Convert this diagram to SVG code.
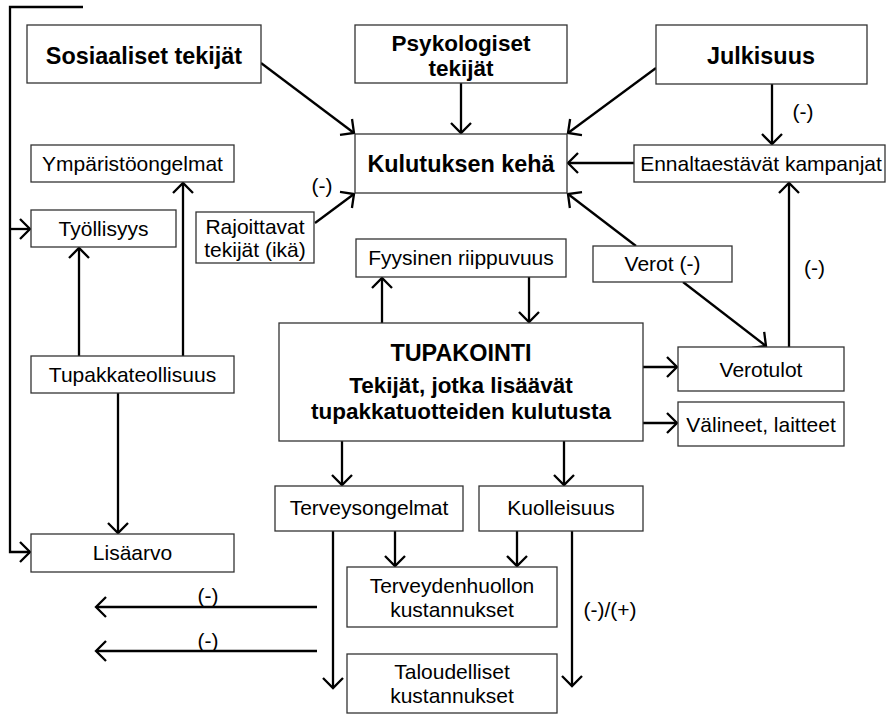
<svg xmlns="http://www.w3.org/2000/svg" width="886" height="714" viewBox="0 0 886 714">
<style>
.box{fill:#fff;stroke:#333;stroke-width:1.3}
.t{font-family:"Liberation Sans",Arial,sans-serif;font-size:21px;fill:#000;text-anchor:middle}
.b{font-family:"Liberation Sans",Arial,sans-serif;font-size:23.4px;font-weight:bold;fill:#000;text-anchor:middle}
.b2{font-family:"Liberation Sans",Arial,sans-serif;font-size:22.5px;font-weight:bold;fill:#000;text-anchor:middle}
.c{fill:none;stroke:#000;stroke-width:2.3}
</style>
<defs>
<marker id="ah" markerUnits="userSpaceOnUse" viewBox="-13 -12 15 24" markerWidth="15" markerHeight="24" refX="0" refY="0" orient="auto">
<path d="M-10,-10 L0,0 L-10,10" fill="none" stroke="#000" stroke-width="2.3"/>
</marker>
</defs>
<rect width="886" height="714" fill="#fff"/>
<g id="connectors">
<path class="c" d="M83,7 H10 V552 H30" marker-end="url(#ah)"/>
<path class="c" d="M10,229 H30" marker-end="url(#ah)"/>
<path class="c" d="M261,63 L354,133" marker-end="url(#ah)"/>
<path class="c" d="M461,83 V133" marker-end="url(#ah)"/>
<path class="c" d="M656,68 L568,133" marker-end="url(#ah)"/>
<path class="c" d="M772,84 V144" marker-end="url(#ah)"/>
<path class="c" d="M634,163 H568" marker-end="url(#ah)"/>
<path class="c" d="M315,223 L354,194" marker-end="url(#ah)"/>
<path class="c" d="M636,246 L568,194" marker-end="url(#ah)"/>
<path class="c" d="M683,282 L766,346" marker-end="url(#ah)"/>
<path class="c" d="M789,347 V183" marker-end="url(#ah)"/>
<path class="c" d="M79,356 V248" marker-end="url(#ah)"/>
<path class="c" d="M183,356 V183" marker-end="url(#ah)"/>
<path class="c" d="M118,393 V533" marker-end="url(#ah)"/>
<path class="c" d="M382,323 V278" marker-end="url(#ah)"/>
<path class="c" d="M529,277 V322" marker-end="url(#ah)"/>
<path class="c" d="M643,367 H677" marker-end="url(#ah)"/>
<path class="c" d="M643,423 H677" marker-end="url(#ah)"/>
<path class="c" d="M342,441 V485" marker-end="url(#ah)"/>
<path class="c" d="M564,441 V485" marker-end="url(#ah)"/>
<path class="c" d="M395,531 V566" marker-end="url(#ah)"/>
<path class="c" d="M517,531 V566" marker-end="url(#ah)"/>
<path class="c" d="M333,531 V688" marker-end="url(#ah)"/>
<path class="c" d="M572,531 V686" marker-end="url(#ah)"/>
<path class="c" d="M317,607 H96" marker-end="url(#ah)"/>
<path class="c" d="M317,651 H96" marker-end="url(#ah)"/>
</g>
<g id="labels">
<text class="t" x="322" y="193">(-)</text>
<text class="t" x="803" y="119">(-)</text>
<text class="t" x="814.5" y="275">(-)</text>
<text class="t" x="208" y="603">(-)</text>
<text class="t" x="208" y="648">(-)</text>
<text class="t" x="610" y="617">(-)/(+)</text>
</g>
<g id="sosiaaliset"><rect class="box" x="27" y="25" width="234" height="58"/><text class="b" x="144" y="64">Sosiaaliset tekijät</text></g>
<g id="psykologiset"><rect class="box" x="355" y="25" width="212" height="58"/><text class="b2" x="461" y="51">Psykologiset</text><text class="b2" x="461" y="76">tekijät</text></g>
<g id="julkisuus"><rect class="box" x="656" y="25" width="211" height="59"/><text class="b" x="761" y="64">Julkisuus</text></g>
<g id="kulutuksen"><rect class="box" x="355" y="134" width="212" height="59"/><text class="b" x="461" y="172">Kulutuksen kehä</text></g>
<g id="ennaltaestavat"><rect class="box" x="634" y="145" width="251" height="37"/><text class="t" x="761" y="171">Ennaltaestävät kampanjat</text></g>
<g id="ymparisto"><rect class="box" x="31" y="145" width="203" height="37"/><text class="t" x="132.5" y="171">Ympäristöongelmat</text></g>
<g id="tyollisyys"><rect class="box" x="31" y="210" width="145" height="37"/><text class="t" x="103.5" y="236">Työllisyys</text></g>
<g id="rajoittavat"><rect class="box" x="196" y="212" width="118" height="51"/><text class="t" x="255" y="234">Rajoittavat</text><text class="t" x="255" y="257">tekijät (ikä)</text></g>
<g id="fyysinen"><rect class="box" x="356" y="239" width="210" height="38"/><text class="t" x="461" y="265">Fyysinen riippuvuus</text></g>
<g id="verot"><rect class="box" x="593" y="246" width="139" height="36"/><text class="t" x="662.5" y="271">Verot (-)</text></g>
<g id="tupakointi"><rect class="box" x="279" y="323" width="364" height="118"/><text class="b" x="461" y="361">TUPAKOINTI</text><text class="b2" x="461" y="393">Tekijät, jotka lisäävät</text><text class="b2" x="461" y="419">tupakkatuotteiden kulutusta</text></g>
<g id="tupakkateollisuus"><rect class="box" x="31" y="356" width="203" height="37"/><text class="t" x="132.5" y="382">Tupakkateollisuus</text></g>
<g id="verotulot"><rect class="box" x="678" y="347" width="166" height="44"/><text class="t" x="761" y="377">Verotulot</text></g>
<g id="valineet"><rect class="box" x="678" y="402" width="166" height="44"/><text class="t" x="761" y="432">Välineet, laitteet</text></g>
<g id="terveysongelmat"><rect class="box" x="275" y="486" width="188" height="45"/><text class="t" x="369" y="515">Terveysongelmat</text></g>
<g id="kuolleisuus"><rect class="box" x="479" y="486" width="164" height="45"/><text class="t" x="561" y="515">Kuolleisuus</text></g>
<g id="lisaarvo"><rect class="box" x="31" y="534" width="203" height="38"/><text class="t" x="132.5" y="560">Lisäarvo</text></g>
<g id="terveydenhuollon"><rect class="box" x="347" y="567" width="210" height="60"/><text class="t" x="452" y="593">Terveydenhuollon</text><text class="t" x="452" y="617">kustannukset</text></g>
<g id="taloudelliset"><rect class="box" x="347" y="654" width="210" height="59"/><text class="t" x="452" y="679">Taloudelliset</text><text class="t" x="452" y="703">kustannukset</text></g>
</svg>
